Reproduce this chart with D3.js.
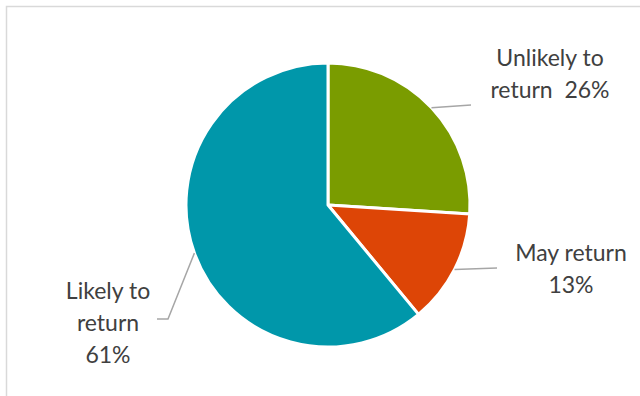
<!DOCTYPE html>
<html>
<head>
<meta charset="utf-8">
<script src="https://cdn.jsdelivr.net/npm/d3@7"></script>
<style>
  html, body { margin: 0; padding: 0; background: #fff; }
  svg { display: block; }
</style>
</head>
<body>
<svg id="chart" width="640" height="396"></svg>
<script>
// Share of respondents by likelihood of returning
const categories = ["Unlikely to return", "May return", "Likely to return"];
const shares = [26, 13, 61];
const labelLines = [
  ["Unlikely to", "return  26%"],
  ["May return", "13%"],
  ["Likely to", "return", "61%"]
];

const colors = ["#7a9c00", "#dd4506", "#0097aa"];

// Label placement: text anchor centre, first baseline, and leader-line end (with optional elbow)
const labelLayout = [
  { x: 550, y: 66, lead: [[471, 105]] },
  { x: 571, y: 261, lead: [[497, 268]] },
  { x: 108, y: 299, lead: [[168, 319], [157, 319]] }
];

const W = 640, H = 396;
const cx = 328, cy = 205, R = 142;
const lineH = 32;

const svg = d3.select("#chart");

// chart-area frame (partly outside the view)
svg.append("rect")
  .attr("x", 6.5).attr("y", 6.5)
  .attr("width", W + 20).attr("height", H + 20)
  .attr("fill", "none")
  .attr("stroke", "#d9d9d9")
  .attr("stroke-width", 1.5);

const pie = d3.pie().sort(null).value(d => d);
const arcs = pie(shares);
const arc = d3.arc().innerRadius(0).outerRadius(R);
const edge = d3.arc().innerRadius(R).outerRadius(R);

const g = svg.append("g").attr("transform", `translate(${cx},${cy})`);

g.selectAll("path.slice")
  .data(arcs)
  .join("path")
  .attr("class", "slice")
  .attr("d", arc)
  .attr("fill", (d, i) => colors[i])
  .attr("stroke", "#fff")
  .attr("stroke-width", 3)
  .attr("stroke-linejoin", "round");

// leader lines from each slice's outer edge midpoint
arcs.forEach((d, i) => {
  const [ex, ey] = edge.centroid(d);
  const pts = [[cx + ex, cy + ey]].concat(labelLayout[i].lead);
  svg.append("path")
    .attr("d", d3.line()(pts))
    .attr("fill", "none")
    .attr("stroke", "#a6a6a6")
    .attr("stroke-width", 1.5);
});

// data labels
labelLines.forEach((lines, i) => {
  const L = labelLayout[i];
  const t = svg.append("text")
    .attr("text-anchor", "middle")
    .attr("font-family", "Lato, 'Open Sans', sans-serif")
    .attr("font-size", 23)
    .attr("fill", "#404040");
  lines.forEach((s, k) => {
    t.append("tspan")
      .attr("x", L.x)
      .attr("y", L.y + k * lineH)
      .attr("xml:space", "preserve")
      .style("white-space", "pre")
      .text(s);
  });
});
</script>
</body>
</html>
